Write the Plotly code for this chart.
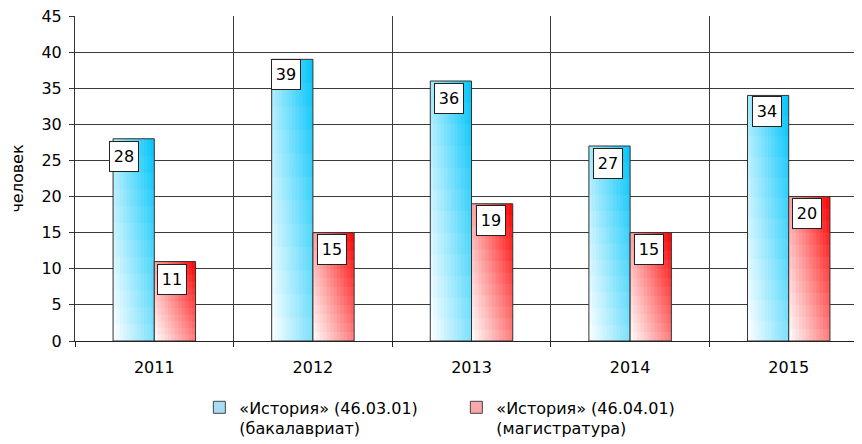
import plotly.graph_objects as go

# ---- data ----
years = ["2011", "2012", "2013", "2014", "2015"]
bachelor = [28, 39, 36, 27, 34]
master = [11, 15, 19, 15, 20]
series_names = [
    "«История» (46.03.01)<br>(бакалавриат)",
    "«История» (46.04.01)<br>(магистратура)",
]
y_title = "человек"
y_ticks = [0, 5, 10, 15, 20, 25, 30, 35, 40, 45]

# ---- style ----
FONT = "DejaVu Sans"
BAR_W = 0.26
N_STRIPS = 12
N_SEGS = 12
GRID = "#3a3a3a"
label_xshift = [[-10, -6, -1.5, -1.5, -1], [-3, -1.5, -1.5, -1.5, -2.5]]
label_yshift = [[-2, 0, -2, -2, -1], [-2, -1, -1, -1, -1]]

x_idx = list(range(len(years)))


def mix(rgb, t):
    r = round(255 + (rgb[0] - 255) * t)
    g = round(255 + (rgb[1] - 255) * t)
    b = round(255 + (rgb[2] - 255) * t)
    return f"rgb({r},{g},{b})"


fig = go.Figure()
series = [
    (bachelor, (0, 196, 250), -BAR_W, "#a6dcf4"),
    (master, (255, 0, 0), 0.0, "#f8a8a8"),
]
step = BAR_W / N_STRIPS
for values, rgb, off, legcol in series:
    for i in range(N_STRIPS):
        u = (i + 0.5) / N_STRIPS
        w = step if i == N_STRIPS - 1 else step * 1.6
        for j in range(N_SEGS):
            v = (j + 0.5) / N_SEGS
            t = min(1.0, 0.35 * v + 0.5 * u + 0.15 * u * v)
            h = 1.0 if j == N_SEGS - 1 else 1.3
            fig.add_trace(go.Bar(
                x=x_idx,
                y=[val * h / N_SEGS for val in values],
                base=[val * j / N_SEGS for val in values],
                width=w,
                offset=off + i * step,
                marker=dict(color=mix(rgb, t), line=dict(width=0)),
                showlegend=False, hoverinfo="skip",
            ))
    fig.add_trace(go.Bar(
        x=x_idx, y=values, width=BAR_W, offset=off,
        marker=dict(color="rgba(0,0,0,0)", line=dict(color="#333333", width=1)),
        showlegend=False, hoverinfo="skip",
    ))

for k, (values, rgb, off, legcol) in enumerate(series):
    fig.add_trace(go.Bar(
        x=[None], y=[None], name=series_names[k],
        marker=dict(color=legcol, line=dict(color="#444444", width=1)),
        showlegend=True, hoverinfo="skip",
    ))

annotations = []
for k, (values, rgb, off, legcol) in enumerate(series):
    for i, val in enumerate(values):
        annotations.append(dict(
            x=x_idx[i] + off + BAR_W / 2, y=val, xref="x", yref="y",
            text=str(val), showarrow=False, yanchor="top", xanchor="center",
            xshift=label_xshift[k][i], yshift=label_yshift[k][i],
            bgcolor="white", bordercolor="#222222", borderwidth=1, borderpad=4,
            width=20, height=21,
            font=dict(family=FONT, size=16, color="black"),
        ))

fig.update_layout(
    width=862, height=444,
    margin=dict(l=67, r=8, t=8, b=111, pad=0, autoexpand=False),
    paper_bgcolor="white", plot_bgcolor="white",
    barmode="overlay",
    font=dict(family=FONT, size=16, color="black"),
    annotations=annotations,
    showlegend=True,
    legend=dict(
        orientation="h", x=0.158, xanchor="left", y=-0.152, yanchor="top",
        font=dict(family=FONT, size=16, color="black"),
        valign="top", traceorder="normal", itemclick=False, itemdoubleclick=False,
        entrywidth=212, entrywidthmode="pixels",
    ),
    xaxis=dict(
        range=[-0.5, 4.462], automargin=False,
        tickmode="array", tickvals=x_idx, ticktext=years,
        ticks="", showgrid=False, zeroline=False,
        showline=True, linecolor="#222222", linewidth=1,
        tickfont=dict(family=FONT, size=16), ticklabelstandoff=12,
        minor=dict(
            tickmode="array", tickvals=[i - 0.5 for i in x_idx] + [x_idx[-1] + 0.5],
            showgrid=True, gridcolor=GRID, gridwidth=1,
            ticks="outside", ticklen=5, tickcolor="#222222",
        ),
        fixedrange=True,
    ),
    yaxis=dict(
        range=[0, 45], tickmode="array", tickvals=y_ticks, automargin=False,
        showgrid=True, gridcolor=GRID, gridwidth=1, zeroline=False,
        showline=True, linecolor="#333333", linewidth=1,
        ticks="outside", ticklen=5, tickcolor="#333333",
        tickfont=dict(family=FONT, size=16), ticklabelstandoff=4,
        ticklabeloverflow="allow",
        title=dict(text=y_title, font=dict(family=FONT, size=16), standoff=16),
        fixedrange=True,
    ),
)

fig.write_html("out.html")
